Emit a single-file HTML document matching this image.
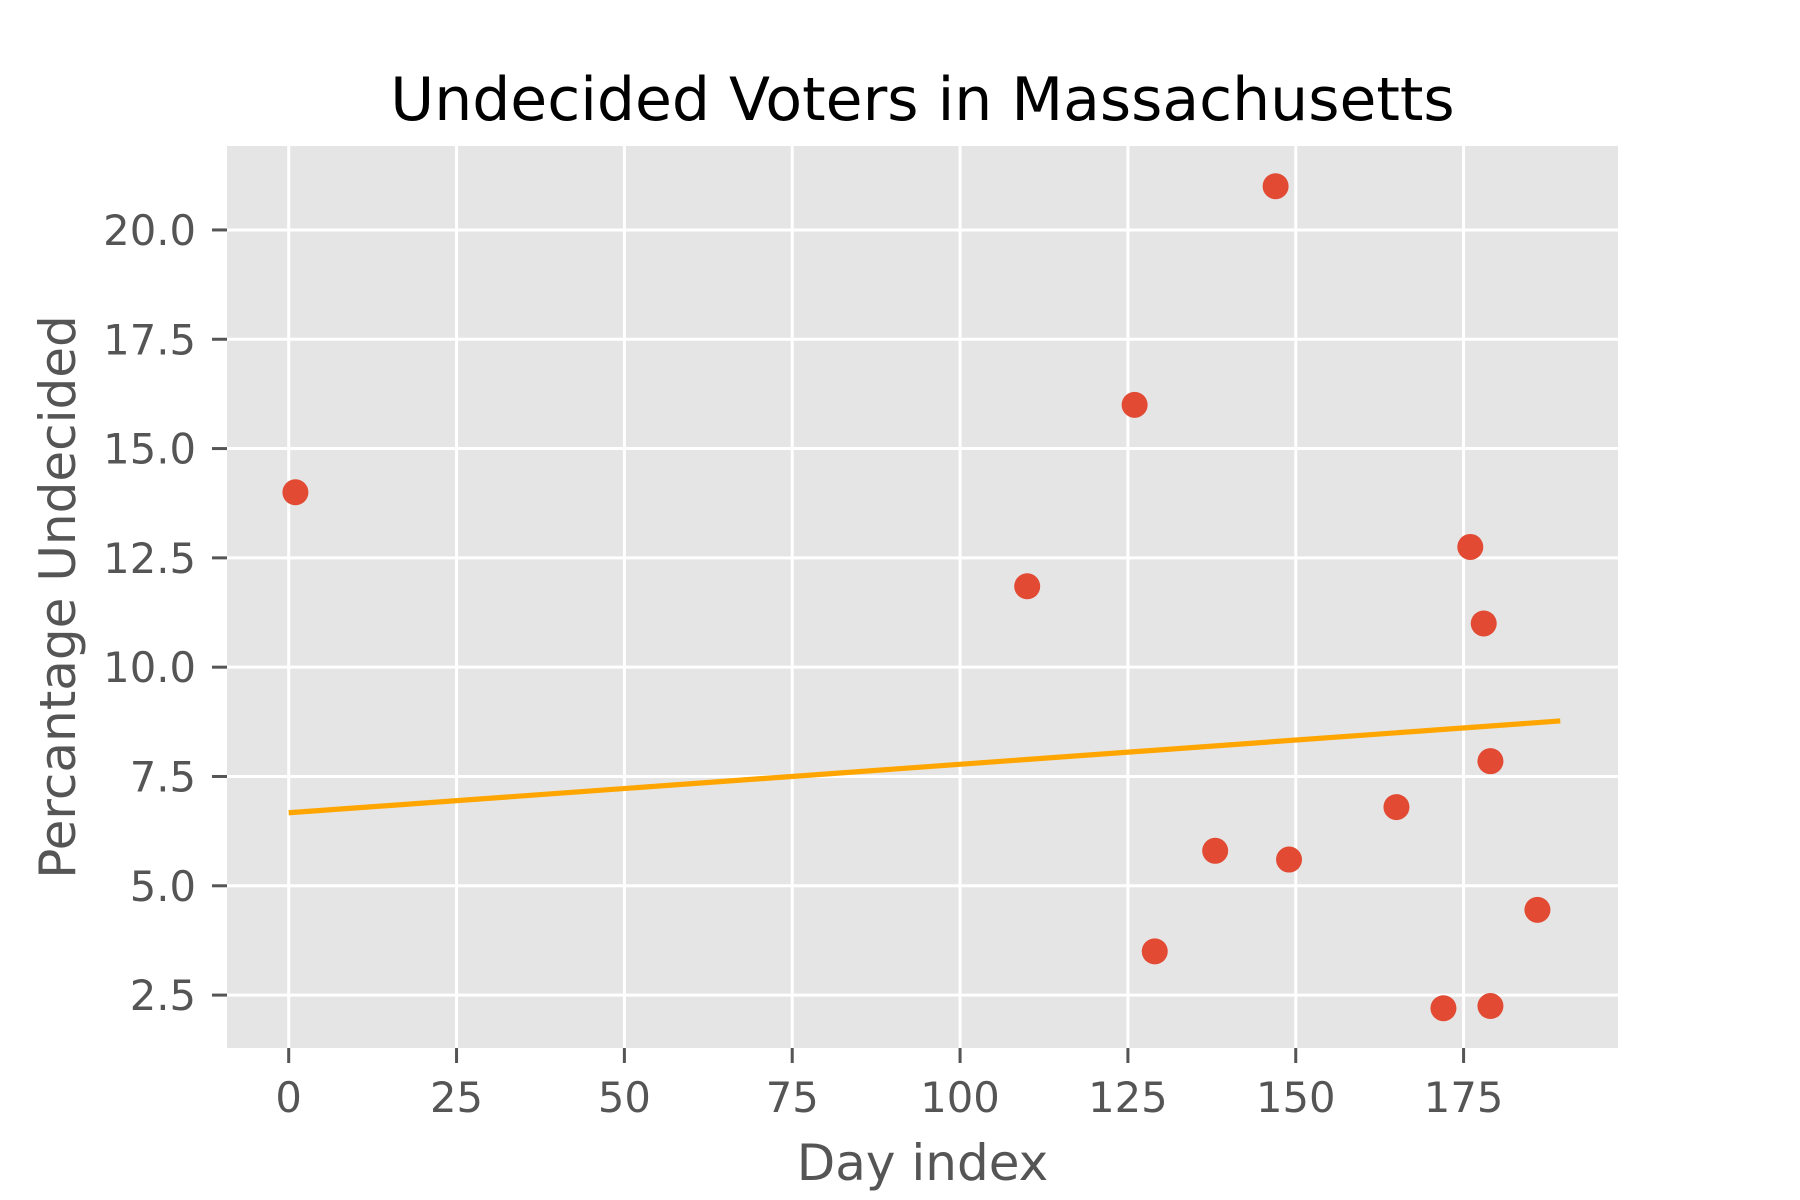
<!DOCTYPE html>
<html><head><meta charset="utf-8"><style>
html,body{margin:0;padding:0;background:#fff;}
svg{display:block;font-family:"DejaVu Sans","Liberation Sans",sans-serif;}
</style></head><body>
<svg id="chart" width="1800" height="1200" viewBox="0 0 1800 1200" xmlns="http://www.w3.org/2000/svg">
<rect x="0" y="0" width="1800" height="1200" fill="#fff"/>
<g id="plot"></g>
</svg>
<script>
const days = [1,110,126,129,138,147,149,165,172,176,178,179,179,186];
const undecided = [14,11.85,16,3.5,5.8,21,5.6,6.8,2.2,12.75,11,7.85,2.25,4.45];
const trendX = [0,189.4];
const trendY = [6.67,8.77];
const xTicks = [0,25,50,75,100,125,150,175];
const yTicks = [2.5,5,7.5,10,12.5,15,17.5,20];
const xDomain = [-9.19,198.0];
const yDomain = [1.29,21.92];

const L=227,R=1618,T=146,B=1048;
const NS='http://www.w3.org/2000/svg';
const g=document.getElementById('plot');
function sx(v){return L+(v-xDomain[0])/(xDomain[1]-xDomain[0])*(R-L);}
function sy(v){return B-(v-yDomain[0])/(yDomain[1]-yDomain[0])*(B-T);}
function mk(tag,attrs,parent){const e=document.createElementNS(NS,tag);for(const k in attrs)e.setAttribute(k,attrs[k]);(parent||g).appendChild(e);return e;}

let bg=mk('rect',{x:L,y:T,width:R-L,height:B-T,fill:'#e5e5e5'});



xTicks.forEach(v=>{
  const x=sx(v);
  let gl=mk('line',{x1:x,x2:x,y1:T,y2:B,stroke:'#fff','stroke-width':3});
  
  
  let tk=mk('line',{x1:x,x2:x,y1:B,y2:B+15,stroke:'#555','stroke-width':3});
  
  
  let t=mk('text',{x:x,y:1112,'text-anchor':'middle','font-size':41.7,fill:'#555'});
  t.textContent=String(v);
  
  
});
yTicks.forEach(v=>{
  const y=sy(v);
  let gl=mk('line',{x1:L,x2:R,y1:y,y2:y,stroke:'#fff','stroke-width':3});
  
  
  let tk=mk('line',{x1:L-15,x2:L,y1:y,y2:y,stroke:'#555','stroke-width':3});
  
  
  let t=mk('text',{x:196,y:y+15,'text-anchor':'end','font-size':41.7,fill:'#555'});
  t.textContent=v.toFixed(1);
  
  
});

let tl=mk('line',{x1:sx(trendX[0]),y1:sy(trendY[0]),x2:sx(trendX[1]),y2:sy(trendY[1]),stroke:'#ffa500','stroke-width':5.2});



days.forEach((d,i)=>{
  let c=mk('circle',{cx:sx(d),cy:sy(undecided[i]),r:13,fill:'#e24a33'});
  
  
});

let title=mk('text',{x:(L+R)/2,y:120,'text-anchor':'middle','font-size':60,fill:'#000'});
title.textContent='Undecided Voters in Massachusetts';



let xl=mk('text',{x:(L+R)/2,y:1180,'text-anchor':'middle','font-size':50,fill:'#555'});
xl.textContent='Day index';



let yl=mk('text',{x:0,y:0,'text-anchor':'middle','font-size':50,fill:'#555',transform:'translate(75,'+((T+B)/2)+') rotate(-90)'});
yl.textContent='Percantage Undecided';


</script>
</body></html>
